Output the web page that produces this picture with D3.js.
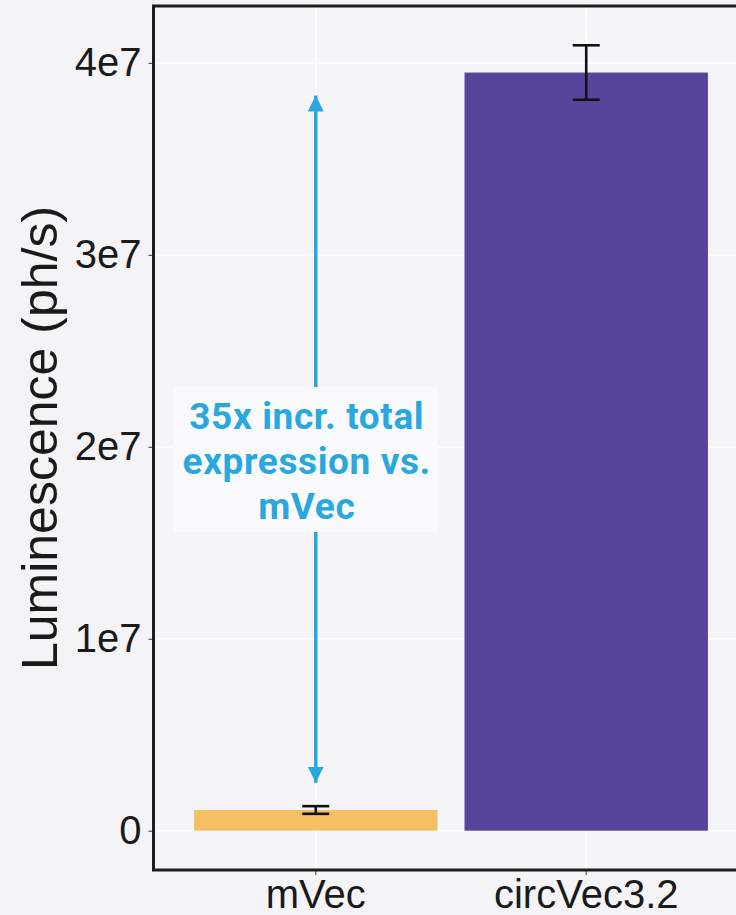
<!DOCTYPE html>
<html>
<head>
<meta charset="utf-8">
<script src="https://cdn.jsdelivr.net/npm/d3@7"></script>
<style>
  html, body { margin: 0; padding: 0; background: #f4f4f7; }
  svg { display: block; }
</style>
</head>
<body>
<svg id="chart" width="736" height="915"></svg>
<script>
// Luminescence per construct (mean with error half-width)
const categories = ["mVec", "circVec3.2"];
const means = [1.08e6, 3.95e7];
const errors = [0.2e6, 0.142e7];
const barColors = ["#f5c063", "#58449d"];
const yTicks = [0, 1e7, 2e7, 3e7, 4e7];
const yTickLabels = ["0", "1e7", "2e7", "3e7", "4e7"];
// Fold-change arrow (from, to) and its note
const arrowSpan = [0.25e7, 3.83e7];
const noteLines = ["35x incr. total", "expression vs.", "mVec"];

const svg = d3.select("#chart");
const panel = { left: 153.5, right: 748.5, top: 6, bottom: 870 };

// y range expanded 5% past the data like a ggplot continuous scale
const tops = means.map((m, i) => m + errors[i]);
const yMax = d3.max(tops);
const pad = yMax * 0.05;
const y = d3.scaleLinear().domain([-pad, yMax + pad]).range([panel.bottom, panel.top]);

const x = d3.scaleBand().domain(categories)
  .range([panel.left, panel.right])
  .paddingInner(0.1).paddingOuter(0.15);

const g = svg.append("g");

// panel background
g.append("rect")
  .attr("x", panel.left).attr("y", panel.top)
  .attr("width", panel.right - panel.left).attr("height", panel.bottom - panel.top)
  .attr("fill", "#f5f5f8");

// grid lines
g.selectAll("line.hgrid").data(yTicks).join("line")
  .attr("class", "hgrid")
  .attr("x1", panel.left).attr("x2", panel.right)
  .attr("y1", d => y(d)).attr("y2", d => y(d))
  .attr("stroke", "#ffffff").attr("stroke-width", 1.6);
g.selectAll("line.vgrid").data(categories).join("line")
  .attr("class", "vgrid")
  .attr("x1", d => x(d) + x.bandwidth() / 2).attr("x2", d => x(d) + x.bandwidth() / 2)
  .attr("y1", panel.top).attr("y2", panel.bottom)
  .attr("stroke", "#ffffff").attr("stroke-width", 1.6);

// bars
g.selectAll("rect.bar").data(categories).join("rect")
  .attr("class", "bar")
  .attr("x", d => x(d))
  .attr("width", x.bandwidth())
  .attr("y", (d, i) => y(means[i]))
  .attr("height", (d, i) => y(0) - y(means[i]))
  .attr("fill", (d, i) => barColors[i]);

// error bars
const capHalf = 13.5;
const eb = g.selectAll("g.err").data(categories).join("g").attr("class", "err")
  .attr("stroke", "#111").attr("stroke-width", 2.6).attr("fill", "none");
eb.append("line")
  .attr("x1", d => x(d) + x.bandwidth() / 2).attr("x2", d => x(d) + x.bandwidth() / 2)
  .attr("y1", (d, i) => y(means[i] + errors[i])).attr("y2", (d, i) => y(means[i] - errors[i]));
eb.append("line")
  .attr("x1", d => x(d) + x.bandwidth() / 2 - capHalf).attr("x2", d => x(d) + x.bandwidth() / 2 + capHalf)
  .attr("y1", (d, i) => y(means[i] + errors[i])).attr("y2", (d, i) => y(means[i] + errors[i]));
eb.append("line")
  .attr("x1", d => x(d) + x.bandwidth() / 2 - capHalf).attr("x2", d => x(d) + x.bandwidth() / 2 + capHalf)
  .attr("y1", (d, i) => y(means[i] - errors[i])).attr("y2", (d, i) => y(means[i] - errors[i]));

// y axis
const yAxis = d3.axisLeft(y).tickValues(yTicks)
  .tickFormat((d, i) => yTickLabels[i]).tickSize(5).tickPadding(7);
const ya = svg.append("g").attr("transform", `translate(${panel.left},0)`).call(yAxis);
ya.select(".domain").remove();
ya.selectAll(".tick line").attr("stroke", "#555").attr("stroke-width", 1.2);
ya.selectAll(".tick text")
  .attr("font-family", "Liberation Sans, Arial, sans-serif")
  .attr("font-size", 40).attr("fill", "#1a1a1a");

// x axis
const xAxis = d3.axisBottom(x).tickSize(5).tickPadding(5);
const xa = svg.append("g").attr("transform", `translate(0,${panel.bottom})`).call(xAxis);
xa.select(".domain").remove();
xa.selectAll(".tick line").attr("stroke", "#555").attr("stroke-width", 1.2);
xa.selectAll(".tick text")
  .attr("font-family", "Liberation Sans, Arial, sans-serif")
  .attr("font-size", 40).attr("fill", "#1a1a1a");

// panel border
svg.append("rect")
  .attr("x", panel.left).attr("y", panel.top)
  .attr("width", panel.right - panel.left).attr("height", panel.bottom - panel.top)
  .attr("fill", "none").attr("stroke", "#1e1e1e").attr("stroke-width", 3);

// y title
svg.append("text")
  .attr("transform", `translate(57,${(panel.top + panel.bottom) / 2}) rotate(-90)`)
  .attr("text-anchor", "middle")
  .attr("font-family", "Liberation Sans, Arial, sans-serif")
  .attr("font-size", 50).attr("fill", "#1a1a1a")
  .text("Luminescence (ph/s)");

// fold-change arrow
const blue = "#29a8e0";
const ax = x(categories[0]) + x.bandwidth() / 2;
const defs = svg.append("defs");
defs.append("marker").attr("id", "head")
  .attr("viewBox", "0 0 16 16").attr("refX", 16).attr("refY", 8)
  .attr("markerWidth", 16).attr("markerHeight", 16)
  .attr("markerUnits", "userSpaceOnUse")
  .attr("orient", "auto-start-reverse")
  .append("path").attr("d", "M0,0 L16,8 L0,16 Z").attr("fill", blue);
svg.append("line")
  .attr("x1", ax).attr("x2", ax)
  .attr("y1", y(arrowSpan[0])).attr("y2", y(arrowSpan[1]))
  .attr("stroke", blue).attr("stroke-width", 3.5)
  .attr("marker-start", "url(#head)")
  .attr("marker-end", "url(#head)");

// note box over the arrow
const noteTop = 387, noteH = 145, noteW = 264;
svg.append("rect")
  .attr("x", ax - 142).attr("y", noteTop)
  .attr("width", noteW).attr("height", noteH)
  .attr("fill", "#fafafc");
svg.append("g").selectAll("text").data(noteLines).join("text")
  .attr("x", ax - 9)
  .attr("y", (d, i) => noteTop + 42 + i * 45)
  .attr("text-anchor", "middle")
  .attr("font-family", "Roboto, sans-serif")
  .attr("font-weight", 700)
  .attr("font-size", 37)
  .attr("letter-spacing", 0.6)
  .attr("fill", blue)
  .text(d => d);
</script>
</body>
</html>
